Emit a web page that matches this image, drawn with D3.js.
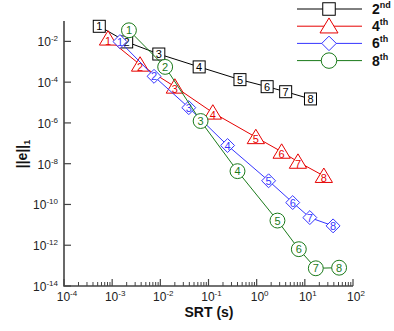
<!DOCTYPE html>
<html><head><meta charset="utf-8">
<script src="https://cdn.jsdelivr.net/npm/d3@7"></script>
<style>body{margin:0;background:#fff}svg{display:block}text{font-family:"Liberation Sans",Arial,sans-serif}</style>
</head><body>
<svg id="c" width="394" height="331"></svg>
<script>
const pointLabels = [1,2,3,4,5,6,7,8];
const seriesNames = ["2", "4", "6", "8"];
const seriesSup = ["nd", "th", "th", "th"];
const srt2 = [5.4e-4, 2.0e-3, 9.3e-3, 0.064, 0.45, 1.65, 4.0, 13.1];
const err2 = [5.5e-2, 9.4e-3, 2.4e-3, 5.6e-4, 1.33e-4, 6.0e-5, 3.4e-5, 1.5e-5];
const srt4 = [8.2e-4, 3.8e-3, 0.020, 0.123, 0.96, 3.3, 7.2, 24.8];
const err4 = [1.37e-2, 7.2e-4, 6.0e-5, 3.2e-6, 2.0e-7, 3.85e-8, 1.24e-8, 2.5e-9];
const srt6 = [1.45e-3, 7.4e-3, 0.039, 0.249, 1.77, 5.6, 12.7, 38.6];
const err6 = [9.8e-3, 1.93e-4, 5.6e-6, 7.8e-8, 1.45e-9, 1.24e-10, 2.27e-11, 8.9e-12];
const srt8 = [2.23e-3, 0.0126, 0.0686, 0.40, 2.7, 7.5, 16.9, 51.5];
const err8 = [3.5e-2, 5.6e-4, 1.24e-6, 4.3e-9, 1.62e-11, 6.4e-13, 7.4e-14, 7.9e-14];
const xTickExps = [-4,-3,-2,-1,0,1,2];
const yTickExps = [-2,-4,-6,-8,-10,-12,-14];

const colors = ["#000000", "#e60000", "#3535ff", "#1a7a1a"];
const shapes = ["square", "triangle", "diamond", "circle"];
const srts = [srt2, srt4, srt6, srt8];
const errs = [err2, err4, err6, err8];

const svg = d3.select("#c");
const L = 64, R = 353, T = 21, B = 286;
const x = d3.scaleLog().domain([1e-4, 1e2]).range([L, R]);
const y = d3.scaleLog().domain([1e-14, 1e-1]).range([B, T]);

const axisCol = "#444";
const g = svg.append("g");
for (let e = -4; e < 2; e++) {
  for (let k = 2; k <= 9; k++) {
    const v = k * Math.pow(10, e);
    g.append("line").attr("x1", x(v)).attr("x2", x(v)).attr("y1", B).attr("y2", B - 4)
      .attr("stroke", axisCol).attr("stroke-width", 1);
  }
}
xTickExps.forEach(e => {
  const v = Math.pow(10, e);
  g.append("line").attr("x1", x(v)).attr("x2", x(v)).attr("y1", B).attr("y2", B - 7)
    .attr("stroke", axisCol).attr("stroke-width", 1.2);
  const t = g.append("text").attr("x", x(v) + 3).attr("y", B + 15).attr("text-anchor", "middle")
    .attr("font-size", 12).attr("fill", "#222");
  t.append("tspan").text("10");
  t.append("tspan").attr("dy", -5).attr("font-size", 8).text(e);
});
yTickExps.forEach(e => {
  const v = Math.pow(10, e);
  g.append("line").attr("x1", L).attr("x2", L + 7).attr("y1", y(v)).attr("y2", y(v))
    .attr("stroke", axisCol).attr("stroke-width", 1.2);
  const t = g.append("text").attr("x", L - 6).attr("y", y(v) + 5).attr("text-anchor", "end")
    .attr("font-size", 12).attr("fill", "#222");
  t.append("tspan").text("10");
  t.append("tspan").attr("dy", -5).attr("font-size", 8).text(e);
});
g.append("path").attr("d", `M${L},${T}V${B}H${R}`).attr("fill", "none")
  .attr("stroke", axisCol).attr("stroke-width", 1.6);

svg.append("text").attr("x", 209).attr("y", 317).attr("text-anchor", "middle")
  .attr("font-size", 14).attr("font-weight", "bold").attr("fill", "#111").text("SRT (s)");
const yl = svg.append("text").attr("transform", "translate(27,154) rotate(-90)")
  .attr("text-anchor", "middle").attr("font-size", 14).attr("font-weight", "bold").attr("fill", "#111");
yl.append("tspan").text("||e||");
yl.append("tspan").attr("font-size", 9).attr("dy", 3).text("1");

function drawMarker(sel, shape, cx, cy, col, sz) {
  if (shape === "square") {
    sel.append("rect").attr("x", cx - sz/2).attr("y", cy - sz/2).attr("width", sz).attr("height", sz)
      .attr("fill", "#fff").attr("stroke", col).attr("stroke-width", 1);
  } else if (shape === "triangle") {
    const h = sz * 1.2;
    sel.append("path").attr("d", `M${cx},${cy - h*0.55}L${cx + sz*0.72},${cy + h*0.45}L${cx - sz*0.72},${cy + h*0.45}Z`)
      .attr("fill", "#fff").attr("stroke", col).attr("stroke-width", 1);
  } else if (shape === "diamond") {
    const r = sz * 0.58;
    sel.append("path").attr("d", `M${cx},${cy - r}L${cx + r},${cy}L${cx},${cy + r}L${cx - r},${cy}Z`)
      .attr("fill", "#fff").attr("stroke", col).attr("stroke-width", 1);
  } else {
    sel.append("circle").attr("cx", cx).attr("cy", cy).attr("r", sz * 0.62)
      .attr("fill", "#fff").attr("stroke", col).attr("stroke-width", 1);
  }
}

const line = d3.line().x(d => x(d[0])).y(d => y(d[1]));
srts.forEach((s, i) => {
  const data = s.map((v, j) => [v, errs[i][j]]);
  const sg = svg.append("g");
  sg.append("path").attr("d", line(data)).attr("fill", "none").attr("stroke", colors[i]).attr("stroke-width", 1);
  data.forEach((d, j) => {
    const cx = x(d[0]), cy = y(d[1]);
    drawMarker(sg, shapes[i], cx, cy, colors[i], 12);
    sg.append("text").attr("x", cx).attr("y", cy + (shapes[i] === "triangle" ? 6 : 4))
      .attr("text-anchor", "middle").attr("font-size", 11).attr("fill", colors[i]).text(pointLabels[j]);
  });
});

const lg = svg.append("g");
seriesNames.forEach((n, i) => {
  const ly = 9 + i * 17.2;
  lg.append("line").attr("x1", 297).attr("x2", 362).attr("y1", ly).attr("y2", ly)
    .attr("stroke", colors[i]).attr("stroke-width", 1);
  drawMarker(lg, shapes[i], 329, ly, colors[i], shapes[i] === "circle" ? 12.5 : 12.5);
  const t = lg.append("text").attr("x", 372).attr("y", ly + 5).attr("font-size", 14)
    .attr("font-weight", "bold").attr("fill", "#111");
  t.append("tspan").text(n);
  t.append("tspan").attr("dy", -6).attr("font-size", 9).text(seriesSup[i]);
});
</script>
</body></html>
